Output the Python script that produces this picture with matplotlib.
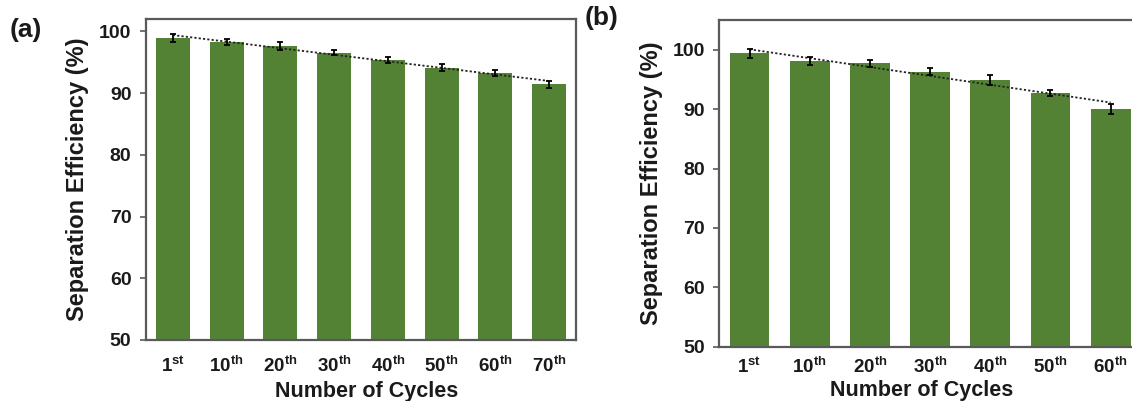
import numpy as np
import matplotlib
matplotlib.use('Agg')
import matplotlib.pyplot as plt

plt.rcParams['font.family'] = ['Liberation Sans', 'DejaVu Sans']
plt.rcParams['font.weight'] = 'bold'
plt.rcParams['axes.labelweight'] = 'bold'
plt.rcParams['mathtext.fontset'] = 'custom'
plt.rcParams['mathtext.bf'] = 'Liberation Sans:bold'
plt.rcParams['mathtext.rm'] = 'Liberation Sans:bold'

# dane - panel (a)
cykle_a = ['1', '10', '20', '30', '40', '50', '60', '70']
sufiks_a = ['st', 'th', 'th', 'th', 'th', 'th', 'th', 'th']
wydajnosc_a = [98.9, 98.3, 97.6, 96.5, 95.3, 94.1, 93.3, 91.4]
blad_a = [0.7, 0.5, 0.7, 0.4, 0.5, 0.6, 0.5, 0.6]

# dane - panel (b)
cykle_b = ['1', '10', '20', '30', '40', '50', '60']
sufiks_b = ['st', 'th', 'th', 'th', 'th', 'th', 'th']
wydajnosc_b = [99.4, 98.1, 97.7, 96.3, 94.9, 92.7, 90.0]
blad_b = [0.8, 0.6, 0.6, 0.6, 0.8, 0.5, 0.8]

zielony = '#548235'
ramka = '#595959'
tekst = '#1a1a1a'


def panel(ax, cykle, sufiks, wartosci, bledy, szer, ymax, pad_x, opis_xy):
    x = np.arange(len(cykle))
    ax.bar(x, wartosci, width=szer, color=zielony, zorder=2)
    ax.errorbar(x, wartosci, yerr=bledy, fmt='none', ecolor='black',
                elinewidth=1.3, capsize=2, capthick=1.3, zorder=4)

    # liniowa linia trendu
    a, b = np.polyfit(x, wartosci, 1)
    ax.plot(x, a * x + b, color='#222222', linestyle=(0, (1.2, 1.2)),
            linewidth=1.3, zorder=3)

    ax.set_xlim(-0.5, len(cykle) - 0.5)
    ax.set_ylim(50, ymax)
    ax.set_yticks(range(50, 101, 10))
    ax.set_xticks(x)
    ax.set_xticklabels([c + r'$^{\mathbf{' + s + '}}$' for c, s in zip(cykle, sufiks)])

    ax.tick_params(axis='y', length=4.5, width=1.2, pad=6, labelsize=14,
                   color=ramka, labelcolor=tekst)
    ax.tick_params(axis='x', length=0, pad=pad_x, labelsize=13.5, labelcolor=tekst)

    for s in ax.spines.values():
        s.set_color(ramka)
        s.set_linewidth(1.6)

    ax.set_xlabel('Number of Cycles', fontsize=15.5, color=tekst, va='baseline')
    ax.xaxis.set_label_coords(*opis_xy)
    ax.set_ylabel('Separation Efficiency (%)', fontsize=17, color=tekst, labelpad=7)


fig = plt.figure(figsize=(11.32, 4.01), dpi=100)

ax1 = fig.add_axes([146 / 1132, 61 / 401, 430 / 1132, 321 / 401])
panel(ax1, cykle_a, sufiks_a, wydajnosc_a, blad_a, 0.63, 102, 11, (0.512, -0.177))

ax2 = fig.add_axes([719.4 / 1132, 54.3 / 401, 421.4 / 1132, 326.7 / 401])
panel(ax2, cykle_b, sufiks_b, wydajnosc_b, blad_b, 0.66, 105, 7, (0.48, -0.152))

fig.text(10 / 1132, 1 - 29.5 / 401, '(a)', fontsize=19, fontweight='bold',
         color=tekst, ha='left', va='center')
fig.text(585 / 1132, 1 - 18 / 401, '(b)', fontsize=19, fontweight='bold',
         color=tekst, ha='left', va='center')

fig.savefig('out.png', dpi=100)
